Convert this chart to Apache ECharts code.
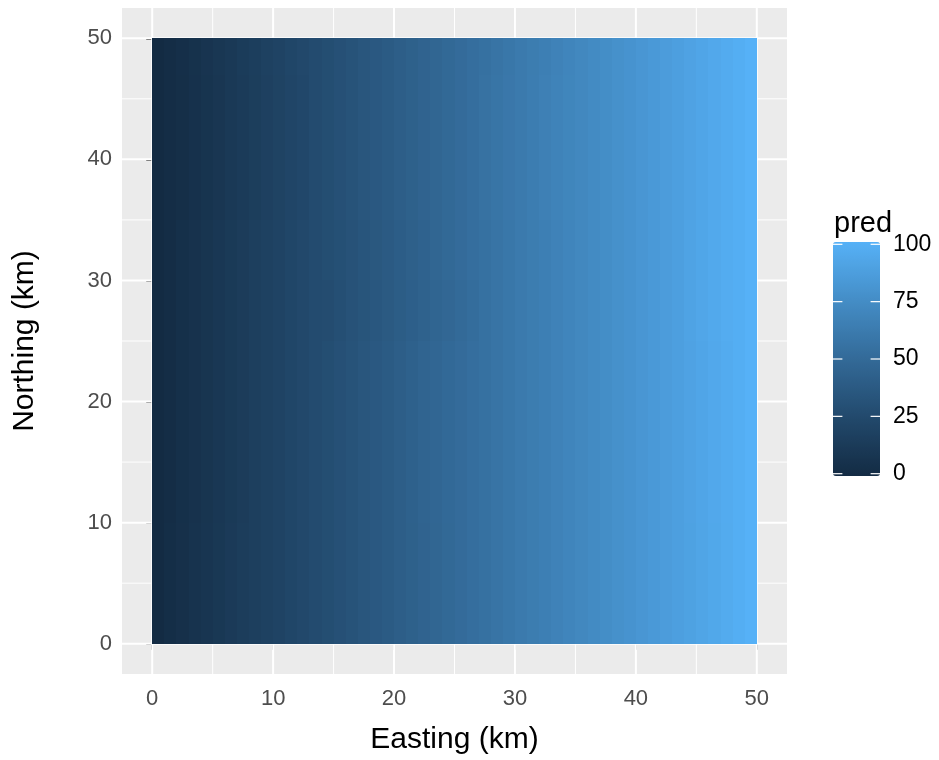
<!DOCTYPE html>
<html>
<head>
<meta charset="utf-8">
<script src="https://cdn.jsdelivr.net/npm/echarts@6/dist/echarts.min.js"></script>
<style>
  html, body { margin: 0; padding: 0; background: #ffffff; }
  #chart { width: 939px; height: 760px; }
</style>
</head>
<body>
<div id="chart"></div>
<script>
// Cell centres of the 1 km prediction grid (km)
const easting = [0.5,1.5,2.5,3.5,4.5,5.5,6.5,7.5,8.5,9.5,10.5,11.5,12.5,13.5,14.5,15.5,16.5,17.5,18.5,19.5,
  20.5,21.5,22.5,23.5,24.5,25.5,26.5,27.5,28.5,29.5,30.5,31.5,32.5,33.5,34.5,35.5,36.5,37.5,38.5,39.5,
  40.5,41.5,42.5,43.5,44.5,45.5,46.5,47.5,48.5,49.5];
const northing = [0.5,1.5,2.5,3.5,4.5,5.5,6.5,7.5,8.5,9.5,10.5,11.5,12.5,13.5,14.5,15.5,16.5,17.5,18.5,19.5,
  20.5,21.5,22.5,23.5,24.5,25.5,26.5,27.5,28.5,29.5,30.5,31.5,32.5,33.5,34.5,35.5,36.5,37.5,38.5,39.5,
  40.5,41.5,42.5,43.5,44.5,45.5,46.5,47.5,48.5,49.5];

// Predicted values along easting, one array per band of northing rows
const predSouth = [
  -1.0,1.5,3.6,5.6,7.7,9.8,11.9,14.0,16.0,17.7,
  19.8,21.9,24.0,26.0,28.1,30.2,32.3,34.4,36.4,38.5,
  40.6,42.7,44.8,46.8,48.9,51.0,53.1,55.2,57.2,59.3,
  61.4,63.5,65.6,67.6,69.7,71.8,73.9,76.0,78.0,80.1,
  82.2,84.3,86.4,88.4,90.1,92.2,94.3,96.4,98.8,100.9];
const predLower = [
  -1.0,1.1,3.2,5.2,7.3,9.4,11.5,13.6,15.6,17.7,
  19.8,21.9,24.0,26.0,28.1,30.2,32.3,34.4,36.4,38.5,
  40.9,43.0,45.1,47.1,49.2,51.0,53.1,55.2,57.2,59.3,
  61.4,63.5,65.6,67.6,69.7,71.8,73.9,76.0,78.0,80.1,
  82.2,84.3,86.4,88.4,90.5,92.6,94.7,96.8,98.8,100.9];
const predMiddle = [
  -1.0,1.1,3.2,5.2,7.3,9.4,11.5,13.6,15.6,17.7,
  19.8,21.9,24.0,26.0,27.1,29.2,31.3,33.4,35.4,37.5,
  39.6,41.7,43.8,45.8,47.9,50.0,52.1,55.2,57.2,59.3,
  61.4,63.5,65.6,67.6,69.7,71.8,73.9,76.0,78.0,80.1,
  82.2,84.3,86.4,88.4,91.3,93.4,95.5,97.6,98.8,100.9];
const predUpper = [
  -1.0,1.1,3.2,5.2,7.3,9.4,11.5,13.6,15.6,17.7,
  19.8,21.9,24.0,26.0,28.1,29.6,31.7,33.8,35.8,37.9,
  40.0,42.1,44.2,46.8,48.9,51.0,53.1,55.2,57.2,59.3,
  61.4,63.5,65.6,67.6,69.7,71.8,73.9,76.0,78.0,80.1,
  82.2,84.3,86.4,88.4,91.1,93.2,95.3,97.4,98.8,100.9];
const predNorth = [
  -1.0,1.1,2.4,4.4,6.5,8.6,10.7,12.8,14.8,16.9,
  19.0,21.1,23.2,26.0,28.1,30.2,32.3,34.4,36.4,38.5,
  40.6,42.7,44.8,46.8,48.9,51.0,53.1,55.7,57.7,59.8,
  61.9,64.0,66.1,68.1,70.2,71.8,73.9,76.0,78.0,80.1,
  82.2,84.3,86.4,88.4,90.5,92.6,94.7,96.8,98.8,100.9];
const predEdge = [
  -1.0,1.1,2.7,4.7,6.8,8.9,11.0,13.1,15.1,17.7,
  19.8,21.9,24.0,26.0,28.1,30.2,32.3,34.4,36.4,38.5,
  40.6,42.7,44.8,46.8,48.9,51.0,53.1,55.2,57.2,59.3,
  61.4,63.5,65.6,67.6,69.7,71.8,73.9,76.0,78.0,80.1,
  82.2,84.3,86.4,88.4,90.5,92.6,94.7,96.8,98.8,100.9];

// One row per northing value, south to north
const pred = [
  predSouth, predSouth, predSouth, predSouth, predSouth, predSouth, predSouth, predSouth, predSouth, predSouth,
  predLower, predLower, predLower, predLower, predLower, predLower, predLower, predLower, predLower, predLower,
  predLower, predLower, predLower, predLower, predLower,
  predMiddle, predMiddle, predMiddle, predMiddle, predMiddle,
  predUpper, predUpper, predUpper, predUpper, predUpper,
  predNorth, predNorth, predNorth, predNorth, predNorth, predNorth, predNorth, predNorth, predNorth, predNorth,
  predNorth, predNorth,
  predEdge, predEdge, predEdge
];

const axisBreaks = [0, 10, 20, 30, 40, 50];
const minorBreaks = [5, 15, 25, 35, 45];
const legendBreaks = [0, 25, 50, 75, 100];
const predRange = [-1, 101];
const axisRange = [-2.5, 52.5];

// Sequential blue scale, with intermediate stops taken along a Lab blend of the two ends
const predColors = ['#132B43', '#22496C', '#336A98', '#448DC6', '#56B1F7'];

const FONT = '"Liberation Sans", Arial, sans-serif';

const cells = [];
northing.forEach((n, r) => {
  easting.forEach((e, c) => { cells.push([e, n, pred[r][c]]); });
});

const gridBreaks = axisBreaks.map(v => [v, 1]).concat(minorBreaks.map(v => [v, 0]));

const chart = echarts.init(document.getElementById('chart'), null, { renderer: 'canvas' });

chart.setOption({
  animation: false,
  backgroundColor: '#ffffff',
  textStyle: { fontFamily: FONT },
  title: {
    text: 'pred',
    left: 834,
    top: 209,
    padding: 0,
    textStyle: { fontFamily: FONT, fontSize: 29, fontWeight: 'normal', color: '#000000' }
  },
  grid: [
    { left: 122, top: 8, width: 665, height: 669, show: true, backgroundColor: '#EBEBEB', borderWidth: 0 },
    { left: 833, top: 242, width: 47, height: 234, show: false }
  ],
  xAxis: [
    {
      gridIndex: 0, type: 'value', min: axisRange[0], max: axisRange[1],
      axisLine: { show: false },
      splitLine: { show: false },
      axisTick: { show: true, customValues: axisBreaks, length: 6, lineStyle: { color: '#333333', width: 1.6 } },
      axisLabel: { customValues: axisBreaks, color: '#4D4D4D', fontSize: 22, margin: 14, fontFamily: FONT },
      name: 'Easting (km)', nameLocation: 'middle', nameGap: 51,
      nameTextStyle: { color: '#000000', fontSize: 30, fontFamily: FONT }
    },
    { gridIndex: 1, type: 'value', min: 0, max: 1, show: false }
  ],
  yAxis: [
    {
      gridIndex: 0, type: 'value', min: axisRange[0], max: axisRange[1],
      axisLine: { show: false },
      splitLine: { show: false },
      axisTick: { show: true, customValues: axisBreaks, length: 6, lineStyle: { color: '#333333', width: 1.6 } },
      axisLabel: { customValues: axisBreaks, color: '#4D4D4D', fontSize: 22, margin: 10, fontFamily: FONT },
      name: 'Northing (km)', nameLocation: 'middle', nameGap: 82, nameRotate: 90,
      nameTextStyle: { color: '#000000', fontSize: 30, fontFamily: FONT }
    },
    {
      gridIndex: 1, type: 'value', min: predRange[0], max: predRange[1], position: 'right',
      axisLine: { show: false },
      splitLine: { show: false },
      axisTick: { show: false, customValues: legendBreaks },
      axisLabel: { customValues: legendBreaks, color: '#000000', fontSize: 23, margin: 13, fontFamily: FONT }
    }
  ],
  visualMap: {
    type: 'continuous',
    seriesIndex: 1,
    dimension: 2,
    min: predRange[0],
    max: predRange[1],
    inRange: { color: predColors },
    orient: 'vertical',
    left: 833,
    top: 242,
    padding: 0,
    itemWidth: 47,
    itemHeight: 234,
    calculable: false,
    hoverLink: false,
    text: null
  },
  series: [
    {
      // white panel grid lines, major and minor
      type: 'custom',
      xAxisIndex: 0, yAxisIndex: 0,
      z: 1,
      silent: true,
      clip: false,
      data: gridBreaks,
      encode: { x: 0, y: 0 },
      renderItem: function (params, api) {
        const cs = params.coordSys;
        const v = api.value(0);
        const w = api.value(1) ? 2 : 1;
        const p = api.coord([v, v]);
        return {
          type: 'group',
          children: [
            { type: 'line', shape: { x1: p[0], y1: cs.y, x2: p[0], y2: cs.y + cs.height },
              style: { stroke: '#ffffff', lineWidth: w } },
            { type: 'line', shape: { x1: cs.x, y1: p[1], x2: cs.x + cs.width, y2: p[1] },
              style: { stroke: '#ffffff', lineWidth: w } }
          ]
        };
      }
    },
    {
      // prediction raster, cell edges snapped to whole pixels so neighbours meet without seams
      type: 'custom',
      xAxisIndex: 0, yAxisIndex: 0,
      z: 2,
      silent: true,
      data: cells,
      dimensions: ['easting', 'northing', 'pred'],
      encode: { x: 0, y: 1 },
      renderItem: function (params, api) {
        const e = api.value(0), n = api.value(1);
        const a = api.coord([e - 0.5, n + 0.5]);
        const b = api.coord([e + 0.5, n - 0.5]);
        const x0 = Math.round(a[0]), y0 = Math.round(a[1]);
        const x1 = Math.round(b[0]), y1 = Math.round(b[1]);
        return {
          type: 'rect',
          shape: { x: x0, y: y0, width: x1 - x0, height: y1 - y0 },
          style: { fill: api.visual('color') }
        };
      }
    },
    {
      // colour bar tick marks
      type: 'custom',
      xAxisIndex: 1, yAxisIndex: 1,
      z: 10,
      silent: true,
      clip: false,
      data: legendBreaks.map(v => [0, v]),
      encode: { x: 0, y: 1 },
      renderItem: function (params, api) {
        const v = api.value(1);
        const l = api.coord([0, v]);
        const r = api.coord([1, v]);
        const len = (r[0] - l[0]) / 5;
        return {
          type: 'group',
          children: [
            { type: 'line', shape: { x1: l[0], y1: l[1], x2: l[0] + len, y2: l[1] },
              style: { stroke: '#ffffff', lineWidth: 1.2 } },
            { type: 'line', shape: { x1: r[0] - len, y1: r[1], x2: r[0], y2: r[1] },
              style: { stroke: '#ffffff', lineWidth: 1.2 } }
          ]
        };
      }
    }
  ]
});
</script>
</body>
</html>
